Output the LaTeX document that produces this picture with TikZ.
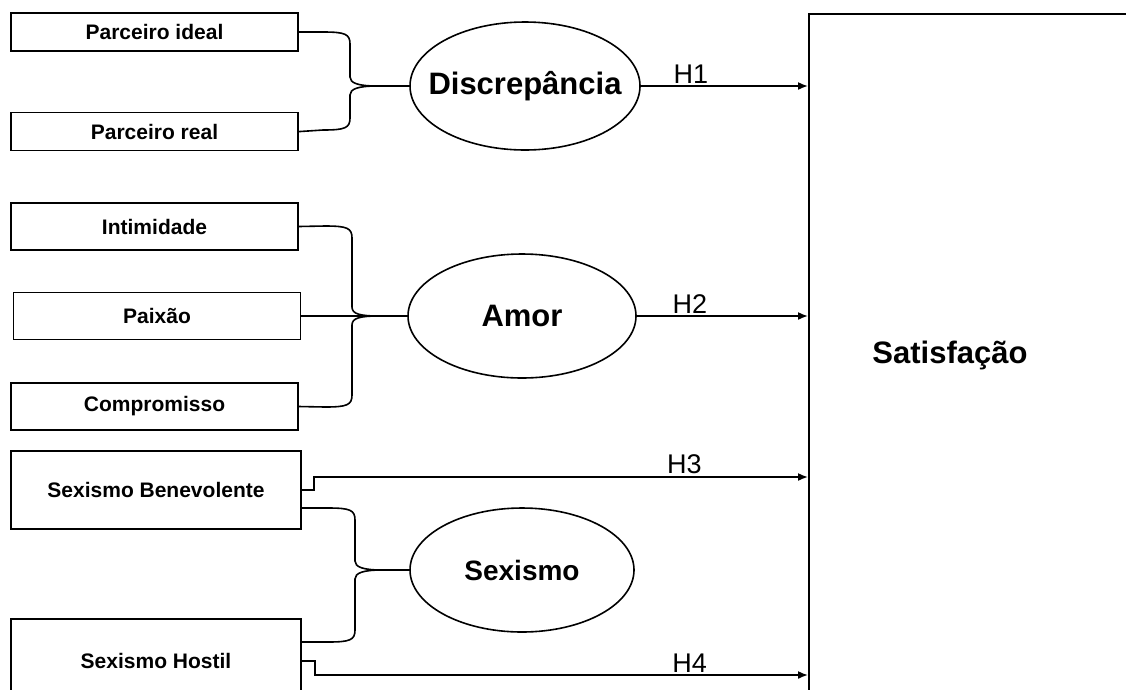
\documentclass[tikz,border=0pt]{standalone}
\usepackage{fontspec}
\setmainfont{Liberation Sans}
\usetikzlibrary{positioning,arrows.meta,shapes.geometric}

\tikzset{
	caixa/.style={draw,line width=1.6pt,minimum width=287pt,minimum height=38pt,inner sep=0pt,font=\fontsize{21}{24}\selectfont\bfseries},
	construto/.style={draw,ellipse,line width=1.6pt,inner sep=0pt,font=\fontsize{31}{34}\selectfont\bfseries},
	ligacao/.style={line width=1.6pt},
	seta/.style={line width=1.6pt,-{Latex[length=10pt,width=8pt]}},
	hip/.style={above,inner sep=2pt,font=\fontsize{27}{30}\selectfont}
}

\begin{document}
\begin{tikzpicture}[x=1pt,y=-1pt]
	\useasboundingbox (0,0) rectangle (1126,689);
	\clip (0,0) rectangle (1126,689);

	\node (pideal)[caixa] at (154.5,32){Parceiro ideal};
	\node (preal)[caixa,below=60pt of pideal]{Parceiro real};

	\node (intim)[caixa,minimum height=47pt] at (154.5,226.5){Intimidade};
	\node (paixao)[caixa,minimum height=47pt] at (157,316){Paixão};
	\node (compr)[caixa,minimum height=47pt] at (154.5,406.5){Compromisso};

	\node (benev)[caixa,minimum width=290pt,minimum height=78pt] at (156,490){Sexismo Benevolente};
	\node (hostil)[caixa,minimum width=290pt,minimum height=84pt] at (156,661){Sexismo Hostil};

	\node (disc)[construto,minimum width=230pt,minimum height=128pt] at (525,86){\makebox[0pt]{Discrepância}};
	\node (amor)[construto,minimum width=228pt,minimum height=124pt] at (522,316){\makebox[0pt]{Amor}};
	\node (sexismo)[construto,minimum width=224pt,minimum height=124pt,font=\fontsize{28}{32}\selectfont\bfseries] at (522,570){\makebox[0pt]{Sexismo}};

	\node (satisf)[draw,line width=1.6pt,anchor=north west,minimum width=400pt,minimum height=720pt] at (808,13){};
	\node (satisfTxt)[font=\fontsize{31}{34}\selectfont\bfseries] at (950,355){Satisfação};

	% chaves
	\draw[ligacao] (pideal.east) -- (323,32) .. controls (345,32) and (350,34) .. (350,44) -- (350,77) .. controls (350,83) and (358,86) .. (377,86) -- (disc.west);
	\draw[ligacao] (preal.east) -- (323,130) .. controls (345,130) and (350,128) .. (350,118) -- (350,95) .. controls (350,89) and (358,86) .. (377,86);

	\draw[ligacao] (intim.east) -- (325,226) .. controls (347,226) and (352,228) .. (352,238) -- (352,307) .. controls (352,314) and (360,316) .. (379,316) -- (amor.west);
	\draw[ligacao] (paixao.east) -- (amor.west);
	\draw[ligacao] (compr.east) -- (325,407) .. controls (347,407) and (352,405) .. (352,395) -- (352,325) .. controls (352,318) and (360,316) .. (379,316);

	\draw[ligacao] ([yshift=-18pt]benev.east) -- (328,508) .. controls (350,508) and (355,510) .. (355,520) -- (355,561) .. controls (355,567) and (363,570) .. (382,570) -- (sexismo.west);
	\draw[ligacao] ([yshift=19pt]hostil.east) -- (328,642) .. controls (350,642) and (355,640) .. (355,630) -- (355,579) .. controls (355,573) and (363,570) .. (382,570);

	% hipoteses
	\draw[seta] (disc) -- (disc -| satisf.west) node[hip,pos=0.3]{H1};
	\draw[seta] (amor) -- (amor -| satisf.west) node[hip,pos=0.31]{H2};
	\draw[seta] (benev.east) -- ++(12,0) -- ++(0,-13) -- (satisf.west |- 0,477) node[hip,pos=0.75]{H3};
	\draw[seta] (hostil.east) -- ++(13,0) -- ++(0,14) -- (satisf.west |- 0,675) node[hip,pos=0.76]{H4};

\end{tikzpicture}
\end{document}
